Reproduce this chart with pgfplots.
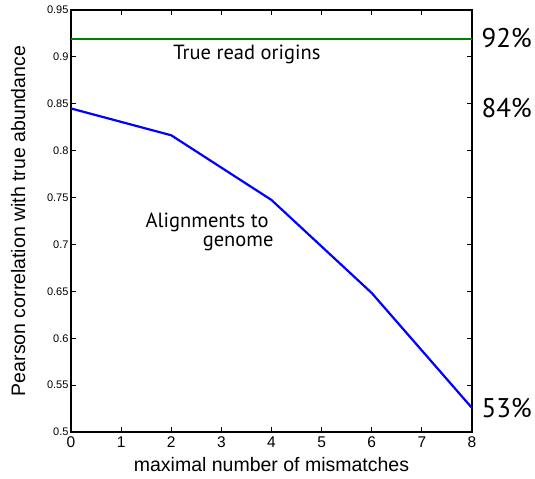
\documentclass[border=0pt]{standalone}
\usepackage{fontspec}
\setmainfont{Liberation Sans}
\newfontfamily\myr{PT Sans}
\usepackage{pgfplots}
\pgfplotsset{compat=1.18}
\begin{document}
\begin{tikzpicture}
\begin{axis}[
  name=ax,
  scale only axis, width=401pt, height=422pt,
  xmin=0, xmax=8, ymin=0.5, ymax=0.95,
  xtick={0,1,...,8},
  ytick={0.5,0.55,0.6,0.65,0.7,0.75,0.8,0.85,0.9,0.95},
  yticklabels={0.5,0.55,0.6,0.65,0.7,0.75,0.8,0.85,0.9,0.95},
  tick align=inside, major tick length=5pt,
  /pgf/number format/assume math mode=true,
  x tick label style={font=\fontsize{15.5}{16}\selectfont, yshift=-1pt},
  y tick label style={font=\fontsize{11}{12}\selectfont, xshift=1pt},
  xlabel={maximal number of mismatches},
  ylabel={Pearson correlation with true abundance},
  xlabel style={font=\fontsize{19.5}{20}\selectfont, at={(axis description cs:0.5,-0.0924)}, anchor=base},
  ylabel style={font=\fontsize{19.5}{20}\selectfont, at={(axis description cs:-0.1147,0.5)}, anchor=base},
  axis line style={line width=1.2pt},
  every tick/.style={line width=0.8pt, black},
  clip=false,
]
\addplot[blue, line width=2.2pt] coordinates {(0,0.845) (2,0.8164) (4,0.7474) (6,0.6482) (8,0.5256)};
\addplot[green!50!black, line width=2.2pt] coordinates {(0,0.919) (8,0.919)};
\node[font=\myr\fontsize{20.5}{21}\selectfont, anchor=base] at (axis cs:3.51,0.8967) {True read origins};
\node[font=\myr\fontsize{20.5}{21}\selectfont, anchor=base east] at (axis cs:4.01,0.7186) {Alignments to};
\node[font=\myr\fontsize{20.5}{21}\selectfont, anchor=base east] at (axis cs:4.11,0.6973) {genome};
\node[font=\myr\fontsize{27}{28}\selectfont, anchor=west, xshift=6pt, yshift=1pt] at (axis cs:8,0.919) {92\%};
\node[font=\myr\fontsize{27}{28}\selectfont, anchor=west, xshift=6pt] at (axis cs:8,0.845) {84\%};
\node[font=\myr\fontsize{27}{28}\selectfont, anchor=west, xshift=6pt] at (axis cs:8,0.5256) {53\%};
\end{axis}
\pgfresetboundingbox
\path[use as bounding box] ([xshift=-71pt,yshift=-46pt]ax.south west) rectangle ([xshift=63pt,yshift=10pt]ax.north east);
\end{tikzpicture}
\end{document}
